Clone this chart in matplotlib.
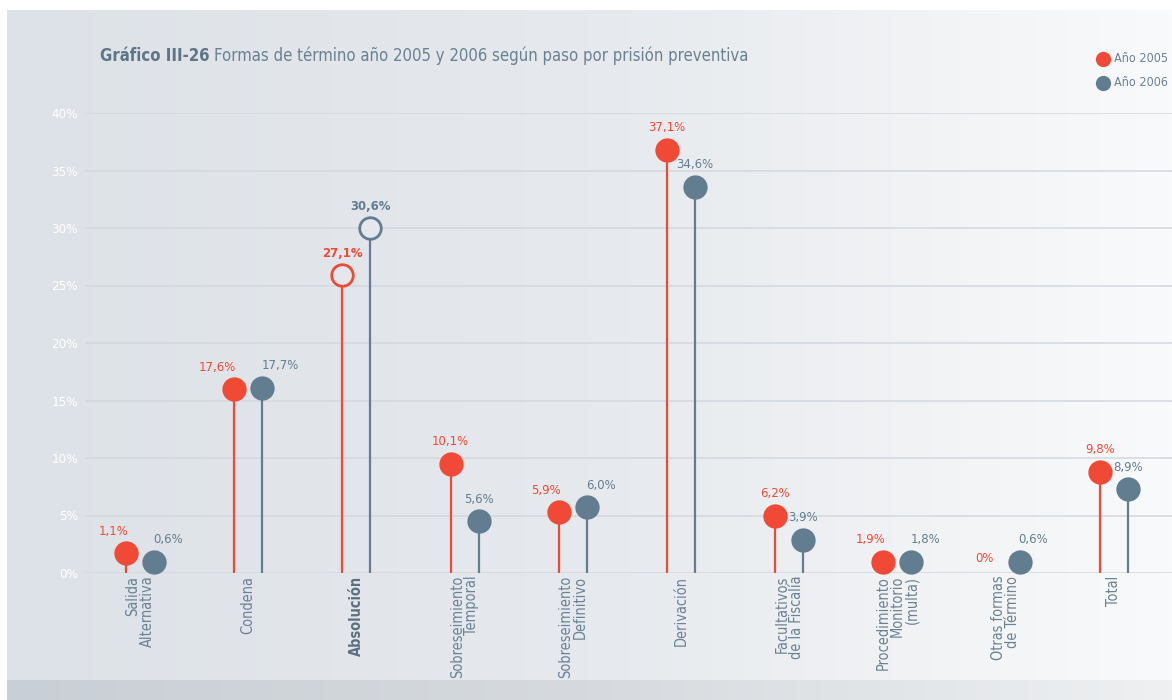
import numpy as np
import matplotlib
matplotlib.use("Agg")
import matplotlib.pyplot as plt
from matplotlib import font_manager as fm
from matplotlib.lines import Line2D
from matplotlib.colors import LinearSegmentedColormap

# ===== DATOS =====
categorias = ["Salida\nAlternativa", "Condena", "Absolución", "Sobreseimiento\nTemporal",
              "Sobreseimiento\nDefinitivo", "Derivación", "Facultativos\nde la Fiscalía",
              "Procedimiento\nMonitorio\n(multa)", "Otras formas\nde Término", "Total"]
# alturas tal como aparecen dibujadas en el gráfico (%)
valores_2005 = [1.7, 16.0, 25.9, 9.5, 5.3, 36.8, 5.0, 1.0, 0.0, 8.8]
valores_2006 = [1.0, 16.1, 30.0, 4.5, 5.7, 33.6, 2.9, 1.0, 1.0, 7.3]
etiquetas_2005 = ["1,1%", "17,6%", "27,1%", "10,1%", "5,9%", "37,1%", "6,2%", "1,9%", "0%", "9,8%"]
etiquetas_2006 = ["0,6%", "17,7%", "30,6%", "5,6%", "6,0%", "34,6%", "3,9%", "1,8%", "0,6%", "8,9%"]
destacado = "Absolución"
yticks = [0, 5, 10, 15, 20, 25, 30, 35, 40]

# ===== ESTILO =====
ROJO = "#f04935"
GRIS = "#627d8f"
TEXTO = "#6a8294"
GRID = "#d3d8df"

# fuente estrecha si existe, si no Liberation Sans
ruta = fm.findfont(fm.FontProperties(family="DejaVu Sans", stretch="condensed"))
if "Condensed" in ruta:
    plt.rcParams["font.family"] = ["DejaVu Sans"]
    plt.rcParams["font.stretch"] = "condensed"
    F = 1.1
else:
    plt.rcParams["font.family"] = ["Liberation Sans", "DejaVu Sans"]
    F = 1.14

W, H = 1172, 700
fig = plt.figure(figsize=(W / 100, H / 100), dpi=100)
fig.patch.set_facecolor("white")

# fondo degradado
bg = fig.add_axes([7 / W, 20 / H, (W - 7) / W, 670 / H], zorder=-10)
grad = np.linspace(0, 1, 256).reshape(1, -1)
bg.imshow(grad, aspect="auto", extent=(0, 1, 0, 1),
          cmap=LinearSegmentedColormap.from_list("bg", ["#dde2e8", "#e6e9ed", "#f9fafb"]))
bg.axis("off")
band = fig.add_axes([7 / W, 0, (W - 7) / W, 20 / H], zorder=-10)
band.imshow(grad, aspect="auto", extent=(0, 1, 0, 1),
            cmap=LinearSegmentedColormap.from_list("band", ["#c9cfd6", "#d6dade", "#eef0f2"]))
band.axis("off")

# ejes principales
paso = 108.2
x0 = 140
ax = fig.add_axes([85 / W, 127 / H, (W - 85) / W, 460 / H])
ax.patch.set_alpha(0)
ax.set_xlim((85 - x0) / paso, (W - x0) / paso)
ax.set_ylim(0, 40)
for s in ax.spines.values():
    s.set_visible(False)
ax.set_yticks(yticks)
ax.set_yticklabels([f"{t}%" for t in yticks], color="white", fontsize=8.8 * F)
ax.yaxis.grid(True, color=GRID, lw=1.1)
ax.set_axisbelow(True)
ax.tick_params(length=0, pad=5)

x = np.arange(len(categorias))
dx = 0.13

for i, cat in enumerate(categorias):
    hueco = cat == destacado
    for xv, v, lab, col, lado in [(x[i] - dx, valores_2005[i], etiquetas_2005[i], ROJO, -1),
                                  (x[i] + dx, valores_2006[i], etiquetas_2006[i], GRIS, 1)]:
        if v > 0:
            ax.plot([xv, xv], [0, v], color=col, lw=1.6, zorder=2, solid_capstyle="butt")
            if hueco:
                ax.plot(xv, v, "o", ms=15.5, mfc="#e4e8ec", mec=col, mew=2.0, zorder=3, clip_on=False)
            else:
                ax.plot(xv, v, "o", ms=17.5, color=col, mec="none", zorder=3, clip_on=False)
        juntos = abs(valores_2005[i] - valores_2006[i]) < 1.2
        if juntos:
            ha = "right" if lado < 0 else "left"
            off = (2 if lado < 0 else -1, 22 if v > 0 else 14)
        else:
            ha = "center"
            off = (0, 22)
        ax.annotate(lab, (xv, v), xytext=off, textcoords="offset pixels",
                    ha=ha, va="center", color=col, fontsize=8.5 * F,
                    fontweight="bold" if hueco else "normal")

ax.set_xticks(x)
ax.set_xticklabels(categorias, rotation=90, ha="center", va="top",
                   multialignment="right", linespacing=0.95, fontsize=9.5 * F, color=TEXTO)
ax.tick_params(axis="x", pad=2)
for t in ax.get_xticklabels():
    if t.get_text() == destacado:
        t.set_fontweight("bold")
        t.set_color("#5a7081")

# título
tit = fig.text(100 / W, 1 - 56 / H, "Gráfico III-26", fontsize=10.9 * F, fontweight="bold",
               color="#5e7586", va="center", ha="left")
fig.canvas.draw()
bb = tit.get_window_extent(fig.canvas.get_renderer())
fig.text((bb.x1 + 5) / W, 1 - 56 / H,
         "Formas de término año 2005 y 2006 según paso por prisión preventiva",
         fontsize=10.9 * F, color="#6a8192", va="center", ha="left")

# leyenda
for yy, col, txt in [(59, ROJO, "Año 2005"), (83, GRIS, "Año 2006")]:
    fig.add_artist(Line2D([1103 / W], [1 - yy / H], marker="o", ms=11, color=col,
                          mec="none", transform=fig.transFigure))
    fig.text(1114 / W, 1 - yy / H, txt, fontsize=8.2 * F, color=TEXTO, va="center", ha="left")

fig.savefig("out.png", dpi=100)
